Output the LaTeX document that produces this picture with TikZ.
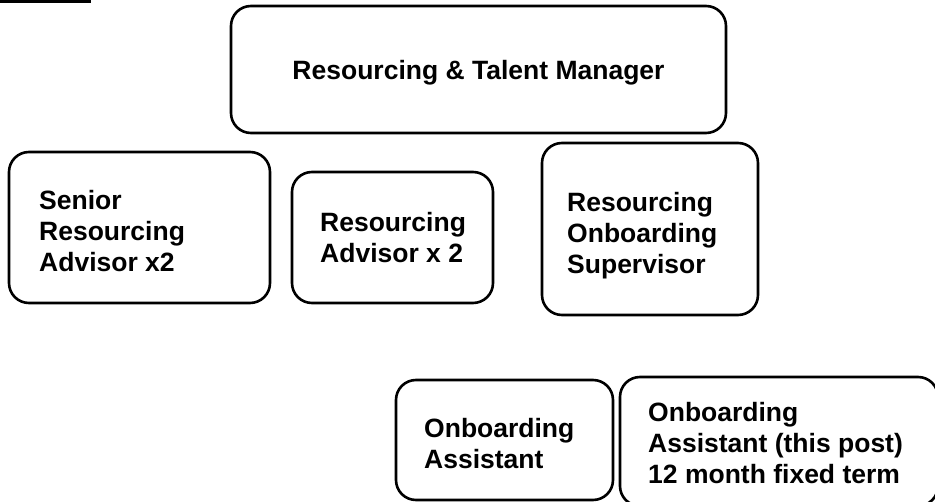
\documentclass[tikz,border=0pt]{standalone}
\usepackage{fontspec}
\setmainfont{Liberation Sans}
\begin{document}
\begin{tikzpicture}[x=1pt,y=-1pt,
  box/.style={draw, line width=2.6pt, rounded corners=20pt, inner sep=0pt},
  lbl/.style={font=\bfseries\fontsize{26.5}{31}\selectfont, align=left,
              inner sep=0pt, anchor=north west}]
\useasboundingbox (0,0) rectangle (935,502);
\clip (0,0) rectangle (935,502);

% short rule in the top left corner
\draw[line width=3pt] (0,1.5) -- (91,1.5);

% boxes
\node[box, minimum width=495pt, minimum height=127pt] (manager)    at (478.5,69.5) {};
\node[box, minimum width=261pt, minimum height=151pt] (senior)     at (139.5,227.5) {};
\node[box, minimum width=201pt, minimum height=131pt] (advisor)    at (392.5,237.5) {};
\node[box, minimum width=216pt, minimum height=172pt] (supervisor) at (650,229) {};
\node[box, minimum width=217pt, minimum height=120pt] (assistant)  at (504.5,440) {};
\node[box, minimum width=318pt, minimum height=129pt] (thispost)   at (779,441.5) {};

% labels
\node[lbl, anchor=base] (managertext) at (478.5,80) {Resourcing \& Talent Manager};
\node[lbl] (seniortext)     at (39,190)  {Senior\\Resourcing\\Advisor x2};
\node[lbl] (advisortext)    at (320,212) {Resourcing\\Advisor x 2};
\node[lbl] (supervisortext) at (567,192) {Resourcing\\Onboarding\\Supervisor};
\node[lbl] (assistanttext)  at (424,418) {Onboarding\\Assistant};
\node[lbl] (thisposttext)   at (648,402) {Onboarding\\Assistant (this post)\\12 month fixed term};
\end{tikzpicture}
\end{document}
